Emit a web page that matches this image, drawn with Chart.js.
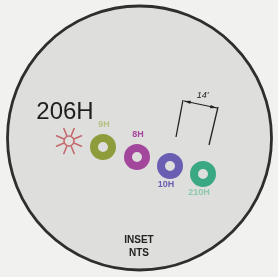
<!DOCTYPE html>
<html><head><meta charset="utf-8">
<style>html,body{margin:0;padding:0;background:#f1f1ef;}#wrap{width:278px;height:277px;}canvas{filter:blur(0.4px);}</style>
<script src="https://cdn.jsdelivr.net/npm/chart.js@4/dist/chart.umd.min.js"></script>
</head><body><div id="wrap"><canvas id="c" width="278" height="277"></canvas></div>
<script>
// Inset drawing values (drawing units on a 278 x 277 sheet)
const ringLabels = ['9H', '8H', '10H', '210H'];
const ringX = [103, 137, 170, 203];
const ringY = [147, 157, 166, 174];
const ringColors = ['#8f9c3c', '#a3479d', '#6a5eb3', '#3aa883'];
const labelColors = ['#b9c184', '#a3479d', '#6a5eb3', '#8cc8aa'];
const labelSide = ['above', 'above', 'below', 'below'];
const sunX = [69];
const sunY = [141];
const titleText = '206H';
const titlePos = [65, 112];
const dimText = "14'";
const dimLeftX = [183, 176];
const dimLeftY = [100, 137];
const dimRightX = [218, 209];
const dimRightY = [107, 145];
const noteLines = ['INSET', 'NTS'];
const notePos = [139, 240];

function sunCanvas() {
  const c = document.createElement('canvas');
  c.width = 30; c.height = 30;
  const g = c.getContext('2d');
  g.strokeStyle = '#c46a6e'; g.lineWidth = 1.6; g.lineCap = 'round';
  g.beginPath(); g.arc(15, 15, 5, 0, Math.PI * 2); g.stroke();
  for (let i = 0; i < 8; i++) {
    const a = i * Math.PI / 4 + Math.PI / 8;
    g.beginPath();
    g.moveTo(15 + Math.cos(a) * 6, 15 + Math.sin(a) * 6);
    g.lineTo(15 + Math.cos(a) * 13.5, 15 + Math.sin(a) * 13.5);
    g.stroke();
  }
  return c;
}

const insetPlugin = {
  id: 'inset',
  beforeDatasetsDraw(chart) {
    const ctx = chart.ctx;
    const xs = chart.scales.x, ys = chart.scales.y;
    const cx = xs.getPixelForValue(139.5), cy = ys.getPixelForValue(138);
    const r = xs.getPixelForValue(139.5 + 132) - cx;
    ctx.save();
    ctx.beginPath(); ctx.arc(cx, cy, r, 0, Math.PI * 2);
    ctx.fillStyle = '#dededc'; ctx.fill();
    ctx.lineWidth = 2.8; ctx.strokeStyle = '#2e2e2e'; ctx.stroke();
    ctx.restore();
  },
  afterDatasetsDraw(chart) {
    const ctx = chart.ctx;
    const xs = chart.scales.x, ys = chart.scales.y;
    const px = v => xs.getPixelForValue(v), py = v => ys.getPixelForValue(v);
    ctx.save();
    ctx.textAlign = 'center'; ctx.textBaseline = 'middle';
    ctx.fillStyle = '#1e1e1e';
    ctx.font = '24px "Liberation Sans", Arial, sans-serif';
    ctx.fillText(titleText, px(titlePos[0]), py(titlePos[1]));
    ctx.font = 'bold 9px "Liberation Sans", Arial, sans-serif';
    ringLabels.forEach((t, i) => {
      ctx.fillStyle = labelColors[i];
      const dy = labelSide[i] === 'above' ? -22 : 19;
      ctx.fillText(t, px(ringX[i]) + (labelSide[i] === 'above' ? 1 : -4), py(ringY[i]) + dy);
    });
    ctx.fillStyle = '#222';
    ctx.font = 'bold 10px "Liberation Sans", Arial, sans-serif';
    noteLines.forEach((t, i) => ctx.fillText(t, px(notePos[0]), py(notePos[1]) + i * 13));
    // dimension line with arrows
    const ax = px(dimLeftX[0]) + 1, ay = py(dimLeftY[0]) + 1;
    const bx = px(dimRightX[0]) - 1, by = py(dimRightY[0]) + 1;
    ctx.strokeStyle = '#222'; ctx.fillStyle = '#222'; ctx.lineWidth = 1.1;
    ctx.beginPath(); ctx.moveTo(ax, ay); ctx.lineTo(bx, by); ctx.stroke();
    const ang = Math.atan2(by - ay, bx - ax);
    [[ax, ay, ang], [bx, by, ang + Math.PI]].forEach(([x, y, a]) => {
      ctx.beginPath(); ctx.moveTo(x, y);
      ctx.lineTo(x + Math.cos(a + 0.25) * 7, y + Math.sin(a + 0.25) * 7);
      ctx.lineTo(x + Math.cos(a - 0.25) * 7, y + Math.sin(a - 0.25) * 7);
      ctx.closePath(); ctx.fill();
    });
    ctx.font = 'italic 9px "Liberation Sans", Arial, sans-serif';
    ctx.fillText(dimText, (ax + bx) / 2 + 2, (ay + by) / 2 - 9);
    ctx.restore();
  }
};

new Chart(document.getElementById('c'), {
  type: 'scatter',
  data: {
    datasets: [
      {
        data: ringX.map((x, i) => ({ x, y: ringY[i] })),
        pointStyle: 'circle', pointRadius: 9, pointBorderWidth: 8,
        pointBackgroundColor: 'rgba(0,0,0,0)', pointBorderColor: ringColors,
        pointHoverRadius: 9, clip: false
      },
      {
        data: sunX.map((x, i) => ({ x, y: sunY[i] })),
        pointStyle: sunCanvas(), pointRadius: 14, clip: false
      },
      {
        data: dimLeftX.map((x, i) => ({ x, y: dimLeftY[i] })),
        showLine: true, borderColor: '#222', borderWidth: 1.3, pointRadius: 0
      },
      {
        data: dimRightX.map((x, i) => ({ x, y: dimRightY[i] })),
        showLine: true, borderColor: '#222', borderWidth: 1.3, pointRadius: 0
      }
    ]
  },
  options: {
    responsive: false, animation: false, devicePixelRatio: 1,
    layout: { padding: 0, autoPadding: false },
    plugins: { legend: { display: false }, tooltip: { enabled: false } },
    events: [],
    scales: {
      x: { type: 'linear', min: 0, max: 278, display: false },
      y: { type: 'linear', min: 0, max: 277, reverse: true, display: false }
    }
  },
  plugins: [insetPlugin]
});
</script></body></html>
